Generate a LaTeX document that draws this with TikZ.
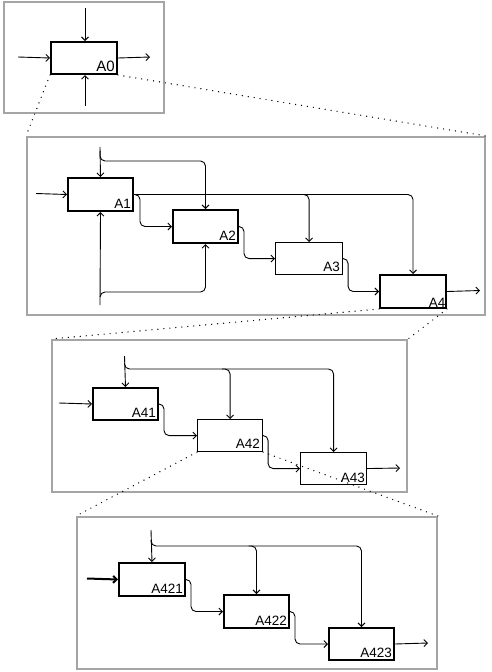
\documentclass[tikz,border=0pt]{standalone}
\usepackage{fontspec}
\setmainfont{Liberation Sans}
\usetikzlibrary{arrows.meta}
\definecolor{framegray}{RGB}{165,165,165}
\tikzset{
  x=1pt, y=-1pt,
  fnode/.style={draw=framegray, line width=2pt, rectangle, inner sep=0pt, anchor=north west},
  fbox/.style={draw=black, line width=2pt, rectangle, inner sep=0pt, anchor=north west},
  tbox/.style={fbox, line width=1.1pt},
  lbl/.style={font=\fontsize{13.5}{15}\selectfont, inner sep=3pt},
  conn/.style={draw=black, line width=0.9pt, rounded corners=5pt},
  arr/.style={conn, -{Straight Barb[length=3.5pt,width=7pt]}},
  zoomline/.style={draw=black, line width=1.4pt, line cap=round, dash pattern=on 0pt off 6pt},
}
\begin{document}
\begin{tikzpicture}
\useasboundingbox (0,0) rectangle (491,672);

% ---- frames ----
\node[fnode, minimum width=160, minimum height=111] (f0) at (3,1) {};
\node[fnode, minimum width=458, minimum height=178] (f1) at (26,136) {};
\node[fnode, minimum width=355, minimum height=152] (f2) at (51,339) {};
\node[fnode, minimum width=360, minimum height=152] (f3) at (76,516) {};

% ---- context level ----
\node[fbox, minimum width=66, minimum height=32,
      label={[lbl, font=\fontsize{15}{17}\selectfont, anchor=south east]south east:A0}] (a0) at (50,41) {};
\coordinate (a0ctl) at (85,8);
\coordinate (a0in) at (18,57);
\coordinate (a0out) at (150,57);
\coordinate (a0mech) at (85,106);
\draw[arr] (a0ctl) -- (a0ctl |- a0.north);
\draw[arr] (a0in) -- (a0.west);
\draw[arr] (a0.east) -- (a0out);
\draw[arr] (a0mech) -- (a0mech |- a0.south);

% ---- level A0 decomposition ----
\node[fbox, minimum width=65, minimum height=33,
      label={[lbl, anchor=south east]south east:A1}] (a1) at (67,177) {};
\node[fbox, minimum width=65, minimum height=33,
      label={[lbl, anchor=south east]south east:A2}] (a2) at (172,209) {};
\node[tbox, minimum width=67, minimum height=32,
      label={[lbl, anchor=south east]south east:A3}] (a3) at (275,242) {};
\node[fbox, minimum width=66, minimum height=33,
      label={[lbl, inner sep=1.5pt, anchor=south east]south east:A4}] (a4) at (379,274) {};

\coordinate (a1in) at (36,193.5);
\coordinate (a1ctl) at (100,147);
\coordinate (a1mech) at (100,305);
\coordinate (a4out) at (480,290.5);

\draw[arr] (a1in) -- (a1.west);
\draw[arr] (a1ctl) -- (a1.north);
\draw[arr] ([yshift=5]a1ctl |- 0,156) -- (a1ctl |- 0,161) -- (a2.north |- 0,161) -- (a2.north);
\draw[arr] (a1mech) -- (a1.south);
\draw[arr] (a1mech |- 0,297) -- (a1mech |- 0,292) -- (a2.south |- 0,292) -- (a2.south);
\draw[arr] (a1.east) -- (a4.north |- a1.east) -- (a4.north);
\draw[arr] ([xshift=-8]a3.north |- a1.east) -- (a3.north |- a1.east) -- (a3.north);
\draw[line width=1.8pt] ([xshift=92]a1.east) -- ([xshift=121]a1.east);
\draw[arr] (a1.east) -- ++(6,0) -- ([xshift=6]a1.east |- a2.west) -- (a2.west);
\draw[arr] (a2.east) -- ++(5,0) -- ([xshift=5]a2.east |- a3.west) -- (a3.west);
\draw[arr] (a3.east) -- ++(5,0) -- ([xshift=5]a3.east |- a4.west) -- (a4.west);
\draw[arr] (a4.east) -- (a4out);

% ---- level A4 decomposition ----
\node[fbox, minimum width=65, minimum height=32,
      label={[lbl, anchor=south east]south east:A41}] (a41) at (92,387) {};
\node[tbox, minimum width=65, minimum height=32,
      label={[lbl, anchor=south east]south east:A42}] (a42) at (197,419) {};
\node[tbox, minimum width=66, minimum height=32,
      label={[lbl, inner sep=2pt, anchor=south east]south east:A43}] (a43) at (300,452) {};

\coordinate (a41in) at (59,403);
\coordinate (a41ctl) at (124.5,356);
\coordinate (a43out) at (400,468);

\draw[arr] (a41in) -- (a41.west);
\draw[arr] (a41ctl) -- (a41.north);
\draw[arr] (a41ctl |- 0,363) -- (a41ctl |- 0,369) -- (a43.north |- 0,369) -- (a43.north);
\draw[arr] ([xshift=-8]a42.north |- 0,369) -- (a42.north |- 0,369) -- (a42.north);
\draw[arr] (a41.east) -- ++(5,0) -- ([xshift=5]a41.east |- a42.west) -- (a42.west);
\draw[arr] (a42.east) -- ++(5,0) -- ([xshift=5]a42.east |- a43.west) -- (a43.west);
\draw[arr] (a43.east) -- (a43out);

% ---- level A42 decomposition ----
\node[fbox, minimum width=66, minimum height=33,
      label={[lbl, anchor=south east]south east:A421}] (a421) at (118,562) {};
\node[fbox, minimum width=65, minimum height=33,
      label={[lbl, anchor=south east]south east:A422}] (a422) at (223,594) {};
\node[fbox, minimum width=65, minimum height=32,
      label={[lbl, anchor=south east]south east:A423}] (a423) at (328,627) {};

\coordinate (a421in) at (87,578.5);
\coordinate (a421ctl) at (151,530);
\coordinate (a423out) at (428,643);

\draw[arr, line width=2pt] (a421in) -- (a421.west);
\draw[arr] (a421ctl) -- (a421.north);
\draw[arr] (a421ctl |- 0,540) -- (a421ctl |- 0,546) -- (a423.north |- 0,546) -- (a423.north);
\draw[arr] ([xshift=-8]a422.north |- 0,546) -- (a422.north |- 0,546) -- (a422.north);
\draw[arr] (a421.east) -- ++(5,0) -- ([xshift=5]a421.east |- a422.west) -- (a422.west);
\draw[arr] (a422.east) -- ++(5,0) -- ([xshift=5]a422.east |- a423.west) -- (a423.west);
\draw[arr] (a423.east) -- (a423out);

% ---- zoom lines between levels ----
\draw[zoomline] (a0.south west) -- (f1.north west);
\draw[zoomline] (a0.south east) -- (f1.north east);
\draw[zoomline] (a4.south west) -- (f2.north west);
\draw[zoomline] (a4.south east) -- (f2.north east);
\draw[zoomline] (a42.south west) -- (f3.north west);
\draw[zoomline] (a42.south east) -- (f3.north east);
\end{tikzpicture}
\end{document}
